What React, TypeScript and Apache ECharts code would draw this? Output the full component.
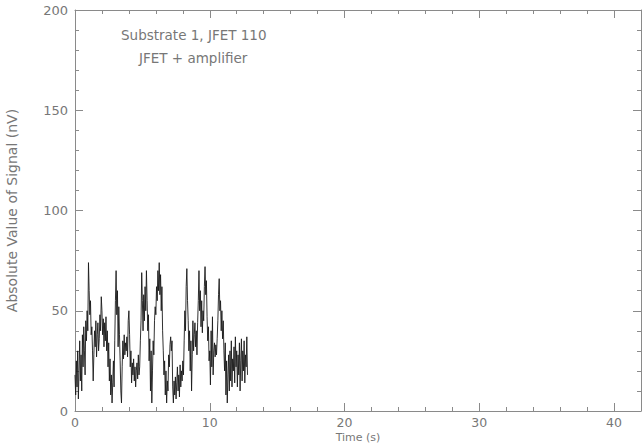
import React, { useEffect, useRef } from "react";
import * as echarts from "echarts";

const STEP = 0.05;
const signal: number[] = [
  // 0 s
  18, 8, 25, 12, 30, 6, 20, 35, 15, 28, 10, 38, 22, 42, 30, 18, 45, 35, 50, 40,
  // 1 s
  74, 60, 48, 55, 38, 42, 30, 15, 28, 40, 32, 45, 27, 38, 44, 30, 36, 48, 40, 57,
  // 2 s
  50, 38, 46, 32, 44, 35, 47, 30, 40, 22, 34, 15, 26, 8, 18, 4, 14, 25, 12, 35,
  // 3 s
  55, 70, 48, 60, 32, 52, 38, 25, 10, 4, 22, 35, 26, 38, 28, 34, 30, 37, 27, 45,
  // 4 s
  50, 38, 22, 30, 14, 24, 18, 26, 15, 22, 12, 20, 24, 16, 28, 18, 22, 35, 45, 69,
  // 5 s
  55, 40, 58, 45, 62, 50, 70, 55, 40, 48, 25, 36, 10, 30, 4, 20, 35, 28, 45, 52,
  // 6 s
  48, 62, 55, 70, 60, 74, 58, 68, 50, 62, 40, 30, 18, 25, 8, 20, 4, 15, 10, 28,
  // 7 s
  22, 33, 37, 30, 35, 12, 4, 15, 8, 17, 6, 14, 22, 10, 18, 7, 23, 12, 20, 15,
  // 8 s
  25, 18, 35, 50, 40, 62, 71, 55, 45, 30, 40, 20, 35, 10, 28, 45, 30, 38, 44, 32,
  // 9 s
  40, 28, 44, 55, 70, 50, 60, 42, 55, 39, 50, 45, 62, 72, 58, 65, 47, 35, 42, 25,
  // 10 s
  30, 13, 40, 22, 47, 18, 30, 34, 27, 33, 28, 36, 45, 58, 66, 50, 55, 40, 50, 36,
  // 11 s
  45, 30, 20, 34, 8, 25, 4, 18, 28, 10, 30, 15, 35, 12, 26, 20, 32, 14, 37, 22,
  // 12 s
  30, 12, 28, 18, 34, 10, 25, 36, 15, 30, 20, 35, 14, 28, 22, 37, 18,
];

const annotations: string[] = ["Substrate 1, JFET 110", "JFET + amplifier"];
const xLabel = "Time (s)";
const yLabel = "Absolute Value of Signal (nV)";

const AXIS_COLOR = "#8a8a8a";
const TEXT_COLOR = "#777777";
const FONT = "DejaVu Sans";

export default function App() {
  const ref = useRef<HTMLDivElement>(null);
  useEffect(() => {
    if (!ref.current) return;
    const chart = echarts.init(ref.current, null, { renderer: "svg" });
    const data = signal.map((v, i) => [Math.round(i * STEP * 1000) / 1000, v]);
    const common = {
      axisLine: { show: true, onZero: false, lineStyle: { color: AXIS_COLOR, width: 1 } },
      splitLine: { show: false },
      minorTick: { show: true, splitNumber: 5, length: 4, lineStyle: { color: AXIS_COLOR, width: 1 } },
      axisTick: { show: true, inside: true, length: 8, lineStyle: { color: AXIS_COLOR, width: 1 } },
    };
    chart.setOption({
      animation: false,
      backgroundColor: "#ffffff",
      grid: { left: 75, right: 3, top: 10, bottom: 32, containLabel: false, outerBoundsMode: "none" },
      xAxis: [
        {
          type: "value",
          min: 0,
          max: 42,
          interval: 10,
          position: "bottom",
          ...common,
          axisLabel: { color: TEXT_COLOR, fontFamily: FONT, fontSize: 12.5, margin: 5, showMaxLabel: false },
        },
        {
          type: "value",
          min: 0,
          max: 42,
          interval: 10,
          position: "top",
          ...common,
          axisLabel: { show: false },
        },
      ],
      yAxis: [
        {
          type: "value",
          min: 0,
          max: 200,
          interval: 50,
          position: "left",
          ...common,
          axisLabel: { color: TEXT_COLOR, fontFamily: FONT, fontSize: 13, margin: 7 },
          name: yLabel,
          nameLocation: "middle",
          nameGap: 56,
          nameTextStyle: { color: TEXT_COLOR, fontFamily: FONT, fontSize: 14 },
        },
        {
          type: "value",
          min: 0,
          max: 200,
          interval: 50,
          position: "right",
          ...common,
          axisLabel: { show: false },
        },
      ],
      series: [
        {
          type: "line",
          data,
          xAxisIndex: 0,
          yAxisIndex: 0,
          showSymbol: false,
          symbol: "none",
          lineStyle: { color: "#1a1a1a", width: 0.9 },
        },
      ],
      graphic: [
        {
          type: "text",
          left: 121,
          top: 28,
          style: { text: annotations[0], fill: TEXT_COLOR, font: `13.5px "${FONT}"` },
        },
        {
          type: "text",
          left: 139,
          top: 51,
          style: { text: annotations[1], fill: TEXT_COLOR, font: `13.5px "${FONT}"` },
        },
        {
          type: "text",
          x: 358,
          y: 443,
          style: {
            text: xLabel,
            fill: TEXT_COLOR,
            font: `11px "${FONT}"`,
            textAlign: "center",
            textVerticalAlign: "bottom",
          },
        },
      ],
    });
    return () => chart.dispose();
  }, []);
  return (
    <div
      ref={ref}
      style={{ position: "fixed", left: 0, top: 0, width: 644, height: 443 }}
    />
  );
}
